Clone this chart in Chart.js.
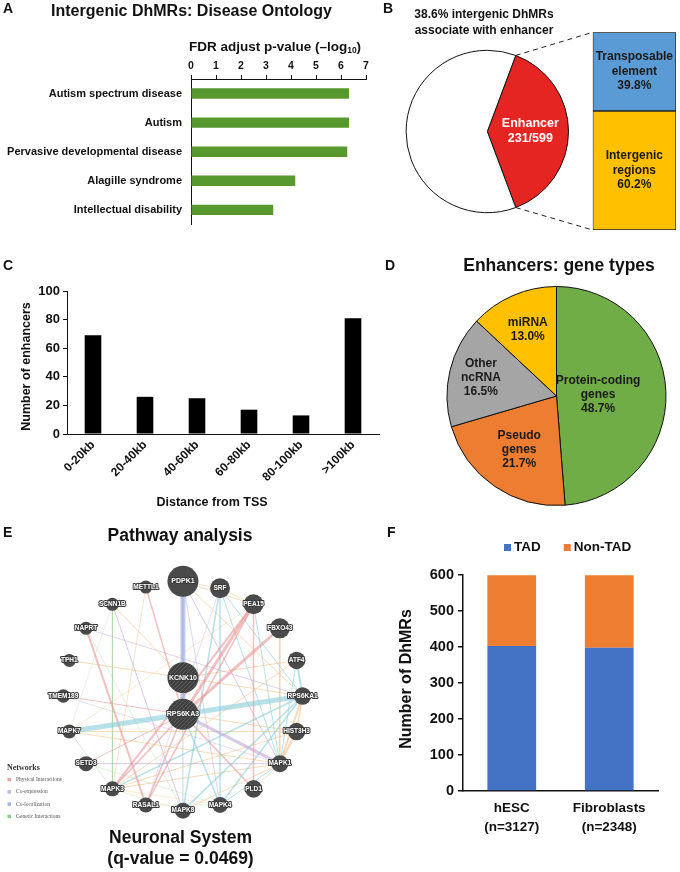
<!DOCTYPE html>
<html>
<head>
<meta charset="utf-8">
<script src="https://cdn.jsdelivr.net/npm/chart.js@4.4.1/dist/chart.umd.min.js"></script>
<style>
html, body { margin: 0; padding: 0; background: #fff; }
#page { position: relative; width: 680px; height: 872px; overflow: hidden; background: #fff; }
canvas { position: absolute; }
</style>
</head>
<body>
<div id="page">
<canvas id="chartE" width="370" height="352" style="left:0px;top:520px"></canvas>
<canvas id="chartA" width="380" height="240" style="left:0px;top:0px"></canvas>
<canvas id="chartB" width="300" height="240" style="left:380px;top:0px"></canvas>
<canvas id="chartBox" width="92" height="206" style="left:588px;top:28px"></canvas>
<canvas id="chartC" width="380" height="280" style="left:0px;top:240px"></canvas>
<canvas id="chartD" width="300" height="290" style="left:380px;top:240px"></canvas>
<canvas id="chartF" width="300" height="347" style="left:380px;top:525px"></canvas>
</div>
<script>
// ---- data ----
// A: disease ontology
const diseaseTerms = ['Autism spectrum disease', 'Autism', 'Pervasive developmental disease', 'Alagille syndrome', 'Intellectual disability'];
const diseaseScores = [6.32, 6.32, 6.25, 4.17, 3.29];

// B: enhancer overlap
const enhancerShare = [38.6, 61.4];
const enhancerTypes = ['Transposable element', 'Intergenic regions'];
const enhancerTypeShare = [39.8, 60.2];

// C: distance from TSS
const tssBins = ['0-20kb', '20-40kb', '40-60kb', '60-80kb', '80-100kb', '>100kb'];
const tssCounts = [69, 26, 25, 17, 13, 81];

// D: gene types
const geneTypes = [['Protein-coding', 'genes'], ['Pseudo', 'genes'], ['Other', 'ncRNA'], ['miRNA']];
const geneTypeShare = [48.7, 21.7, 16.5, 13.0];

// E: network (node layout)
const genes = ['PDPK1', 'SRF', 'PEA15', 'FBXO43', 'ATF4', 'RPS6KA1', 'HIST3H3', 'MAPK1', 'PLD1', 'MAPK4', 'MAPK8',
  'RASAL1', 'MAPK3', 'SETD3', 'MAPK7', 'TMEM189', 'TPH1', 'NAPRT', 'SCNN1B', 'METTL1', 'KCNK10', 'RPS6KA3'];
const geneX = [0, 0.31, 0.59, 0.81, 0.95, 1.0, 0.95, 0.81, 0.59, 0.31, 0, -0.31, -0.59, -0.81, -0.95, -1.0, -0.95, -0.81, -0.59, -0.31, 0, 0];
const geneY = [1.0, 0.94, 0.80, 0.59, 0.31, 0, -0.31, -0.59, -0.81, -0.95, -1.0, -0.95, -0.81, -0.59, -0.31, 0, 0.31, 0.59, 0.80, 0.95, 0.16, -0.16];
const geneWeight = [15.5, 10, 10, 10, 8.7, 8.7, 8.7, 8.5, 8.8, 8, 8, 7.5, 7.5, 7.5, 7, 6.7, 6.5, 6.5, 6.5, 6.5, 15.5, 15.5];
const queryGenes = ['KCNK10', 'RPS6KA3'];
const links = [
  ['PDPK1', 'RPS6KA3', 'coloc', 5], ['PDPK1', 'KCNK10', 'coexp', 2], ['MAPK7', 'RPS6KA3', 'path', 5],
  ['RPS6KA3', 'RPS6KA1', 'path', 5], ['PEA15', 'RPS6KA3', 'phys', 3], ['FBXO43', 'RPS6KA3', 'phys', 3],
  ['PEA15', 'MAPK3', 'phys', 2], ['PEA15', 'RASAL1', 'phys', 1.5], ['PEA15', 'PLD1', 'phys', 1.5],
  ['NAPRT', 'RASAL1', 'phys', 2], ['METTL1', 'RPS6KA3', 'phys', 1.5], ['RPS6KA3', 'MAPK1', 'coexp', 3],
  ['HIST3H3', 'MAPK1', 'pred', 2.5], ['RPS6KA1', 'MAPK1', 'pred', 2], ['RPS6KA1', 'HIST3H3', 'pred', 1.5],
  ['ATF4', 'RPS6KA1', 'path', 2], ['SRF', 'MAPK8', 'path', 1.5], ['SRF', 'MAPK4', 'path', 1.5],
  ['SRF', 'RPS6KA1', 'path', 1], ['PDPK1', 'RPS6KA1', 'pred', 1], ['MAPK3', 'RPS6KA1', 'path', 1.5],
  ['MAPK3', 'ATF4', 'pred', 1], ['MAPK8', 'RPS6KA1', 'path', 1.5], ['MAPK4', 'RPS6KA1', 'path', 1.5],
  ['MAPK4', 'RPS6KA3', 'path', 1.5], ['MAPK8', 'RPS6KA3', 'path', 1], ['TMEM189', 'RPS6KA3', 'phys', 1],
  ['TPH1', 'KCNK10', 'pred', 1], ['SCNN1B', 'MAPK8', 'coexp', 1], ['SCNN1B', 'KCNK10', 'pred', 1],
  ['NAPRT', 'RPS6KA1', 'coexp', 0.8], ['MAPK7', 'HIST3H3', 'pred', 1], ['MAPK7', 'MAPK1', 'pred', 1],
  ['MAPK7', 'MAPK3', 'gen', 0.8], ['SETD3', 'MAPK1', 'coexp', 1], ['SETD3', 'RPS6KA3', 'phys', 1],
  ['MAPK3', 'HIST3H3', 'pred', 1], ['MAPK3', 'MAPK1', 'pred', 1], ['MAPK3', 'RPS6KA3', 'phys', 1.5],
  ['RASAL1', 'RPS6KA3', 'phys', 1.5], ['MAPK8', 'MAPK1', 'pred', 1], ['PLD1', 'RPS6KA3', 'phys', 1.5],
  ['PLD1', 'MAPK1', 'pred', 0.8], ['MAPK4', 'MAPK1', 'path', 1], ['PDPK1', 'MAPK1', 'coexp', 1],
  ['PDPK1', 'PEA15', 'pred', 1], ['PDPK1', 'SRF', 'pred', 0.8], ['SRF', 'PEA15', 'pred', 0.8],
  ['METTL1', 'MAPK3', 'pred', 0.8], ['SCNN1B', 'MAPK3', 'gen', 0.8], ['NAPRT', 'MAPK8', 'gen', 0.6],
  ['KCNK10', 'RPS6KA1', 'pred', 1], ['KCNK10', 'ATF4', 'pred', 1], ['PEA15', 'MAPK1', 'path', 1],
  ['SRF', 'MAPK1', 'path', 1], ['FBXO43', 'MAPK1', 'pred', 0.8], ['ATF4', 'MAPK1', 'path', 1],
  ['MAPK7', 'PEA15', 'pred', 0.6], ['TMEM189', 'MAPK1', 'coexp', 0.6], ['MAPK8', 'MAPK3', 'pred', 0.6],
  ['RASAL1', 'MAPK4', 'gen', 0.6], ['MAPK3', 'MAPK4', 'pred', 0.6], ['SETD3', 'MAPK4', 'gen', 0.6],
  ['RPS6KA3', 'HIST3H3', 'pred', 1], ['PDPK1', 'MAPK4', 'coexp', 0.8], ['MAPK7', 'SCNN1B', 'gen', 0.5],
  ['SRF', 'RASAL1', 'coexp', 0.6]
];

// F: TAD overlap
const cellTypes = [['hESC', '(n=3127)'], ['Fibroblasts', '(n=2348)']];
const tadCounts = [403, 398];
const nonTadCounts = [196, 201];

// ---- setup ----
const FONT = '"Liberation Sans", Arial, Helvetica, sans-serif';
const SERIF = '"Liberation Serif", "DejaVu Serif", serif';
Chart.defaults.font.family = FONT;
Chart.defaults.font.weight = 'bold';
Chart.defaults.color = '#111';
Chart.defaults.animation = false;
Chart.defaults.responsive = false;
Chart.defaults.events = [];
Chart.defaults.plugins.legend.display = false;
Chart.defaults.plugins.tooltip.enabled = false;

function put(ctx, text, x, y, size, o = {}) {
  ctx.save();
  ctx.font = `${o.weight || 'bold'} ${size}px ${o.family || FONT}`;
  ctx.fillStyle = o.color || '#111';
  ctx.textAlign = o.align || 'center';
  ctx.textBaseline = 'middle';
  ctx.translate(x, y);
  if (o.rotate) ctx.rotate(o.rotate);
  ctx.fillText(text, 0, 0);
  ctx.restore();
}

// box of panel B, page coordinates
const BOX = { left: 592.7, right: 676, top: 32.3, bottom: 230 };

// ---- A ----
new Chart(document.getElementById('chartA'), {
  type: 'bar',
  data: {
    labels: diseaseTerms,
    datasets: [{ data: diseaseScores, backgroundColor: '#58992f', barPercentage: 0.36, categoryPercentage: 1 }]
  },
  options: {
    indexAxis: 'y',
    layout: { padding: { left: 0, top: 59, right: 14, bottom: 5 } },
    scales: {
      x: {
        position: 'top', min: 0, max: 7,
        ticks: { stepSize: 1, font: { size: 10.5 }, padding: 3 },
        grid: { drawOnChartArea: false, tickLength: 4, color: '#111' },
        border: { color: '#111' },
        afterFit: s => { s.height = 20; }
      },
      y: {
        ticks: { font: { size: 11 }, padding: 9 },
        grid: { display: false, drawTicks: false },
        border: { color: '#111' },
        afterFit: s => { s.width = 191; }
      }
    }
  },
  plugins: [{
    id: 'textA',
    afterDraw(chart) {
      const ctx = chart.ctx;
      put(ctx, 'A', 3, 9, 14, { align: 'left' });
      put(ctx, 'Intergenic DhMRs: Disease Ontology', 191.5, 12, 16);
      const main = 'FDR adjust p-value (\u2013log';
      ctx.font = `bold 13.5px ${FONT}`;
      const w1 = ctx.measureText(main).width;
      const w3 = ctx.measureText(')').width;
      ctx.font = `bold 8.5px ${FONT}`;
      const w2 = ctx.measureText('10').width;
      const x0 = 275 - (w1 + w2 + w3) / 2;
      put(ctx, main, x0, 47, 13.5, { align: 'left' });
      put(ctx, '10', x0 + w1, 51, 8.5, { align: 'left' });
      put(ctx, ')', x0 + w1 + w2, 47, 13.5, { align: 'left' });
    }
  }]
});

// ---- B ----
new Chart(document.getElementById('chartB'), {
  type: 'pie',
  data: {
    labels: ['Enhancer', 'Other'],
    datasets: [{ data: enhancerShare, backgroundColor: ['#e42522', '#ffffff'], borderColor: '#111', borderWidth: 1 }]
  },
  options: {
    rotation: 20.5,
    layout: { padding: { left: 25.6, right: 111, top: 49.8, bottom: 26.8 } }
  },
  plugins: [{
    id: 'textB',
    afterDraw(chart) {
      const ctx = chart.ctx;
      const arc = chart.getDatasetMeta(0).data[0];
      const r = arc.outerRadius;
      ctx.save();
      ctx.setLineDash([5, 4]);
      ctx.strokeStyle = '#222';
      ctx.lineWidth = 1;
      ctx.beginPath();
      ctx.moveTo(arc.x + r * Math.cos(arc.startAngle), arc.y + r * Math.sin(arc.startAngle));
      ctx.lineTo(BOX.left - 380, BOX.top);
      ctx.moveTo(arc.x + r * Math.cos(arc.endAngle), arc.y + r * Math.sin(arc.endAngle));
      ctx.lineTo(BOX.left - 380, BOX.bottom);
      ctx.stroke();
      ctx.restore();
      const mid = (arc.startAngle + arc.endAngle) / 2;
      const lx = arc.x + r * 0.53 * Math.cos(mid);
      const ly = arc.y + r * 0.53 * Math.sin(mid);
      put(ctx, 'Enhancer', lx, ly - 8, 12.5, { color: '#fff' });
      put(ctx, '231/599', lx, ly + 7, 12.5, { color: '#fff' });
      put(ctx, 'B', 3, 9, 14, { align: 'left' });
      put(ctx, enhancerShare[0].toFixed(1) + '% intergenic DhMRs', 104, 15, 12);
      put(ctx, 'associate with enhancer', 104, 31, 12);
    }
  }]
});

new Chart(document.getElementById('chartBox'), {
  type: 'bar',
  data: {
    labels: [''],
    datasets: [
      { label: enhancerTypes[1], data: [enhancerTypeShare[1]], backgroundColor: '#ffc000' },
      { label: enhancerTypes[0], data: [enhancerTypeShare[0]], backgroundColor: '#5b9bd5' }
    ]
  },
  options: {
    datasets: { bar: { barPercentage: 1, categoryPercentage: 1, borderColor: '#222', borderWidth: 1, borderSkipped: false } },
    layout: { padding: { left: BOX.left - 588, right: 680 - BOX.right, top: BOX.top - 28, bottom: 234 - BOX.bottom } },
    scales: {
      x: { display: false, stacked: true },
      y: { display: false, stacked: true, min: 0, max: 100 }
    }
  },
  plugins: [{
    id: 'textBox',
    afterDraw(chart) {
      const ctx = chart.ctx;
      chart.data.datasets.forEach((ds, i) => {
        const el = chart.getDatasetMeta(i).data[0];
        const cy = (el.y + el.base) / 2;
        const lines = ds.label.split(' ').concat([ds.data[0].toFixed(1) + '%']);
        lines.forEach((t, k) => put(ctx, t, el.x, cy + (k - 1) * 14.5, 12, { color: '#1a1a1a' }));
      });
    }
  }]
});

// ---- C ----
new Chart(document.getElementById('chartC'), {
  type: 'bar',
  data: {
    labels: tssBins,
    datasets: [{ data: tssCounts, backgroundColor: '#000', barPercentage: 0.32, categoryPercentage: 1 }]
  },
  options: {
    layout: { padding: { left: 0, top: 51, right: 1, bottom: 6 } },
    scales: {
      x: {
        ticks: { font: { size: 12 }, minRotation: 45, maxRotation: 45, padding: 4, autoSkip: false },
        grid: { display: false, drawTicks: false },
        border: { color: '#111' },
        afterFit: s => { s.height = 80; }
      },
      y: {
        min: 0, max: 100,
        ticks: { stepSize: 20, font: { size: 13 }, padding: 3 },
        grid: { drawOnChartArea: false, tickLength: 4, color: '#111' },
        border: { color: '#111' },
        afterFit: s => { s.width = 67; }
      }
    }
  },
  plugins: [{
    id: 'textC',
    afterDraw(chart) {
      const ctx = chart.ctx;
      put(ctx, 'C', 3, 26, 14, { align: 'left' });
      put(ctx, 'Number of enhancers', 27, 126.5, 12.5, { rotate: -Math.PI / 2 });
      put(ctx, 'Distance from TSS', 212, 262.3, 12.5);
    }
  }]
});

// ---- D ----
const geneLabelRadius = [0.38, 0.6, 0.71, 0.66];
new Chart(document.getElementById('chartD'), {
  type: 'pie',
  data: {
    labels: geneTypes,
    datasets: [{ data: geneTypeShare, backgroundColor: ['#70ad47', '#ed7d31', '#a5a5a5', '#ffc000'], borderColor: '#111', borderWidth: 1 }]
  },
  options: {
    layout: { padding: { left: 66.5, right: 13.5, top: 46, bottom: 24 } }
  },
  plugins: [{
    id: 'textD',
    afterDraw(chart) {
      const ctx = chart.ctx;
      put(ctx, 'D', 5, 26, 14, { align: 'left' });
      put(ctx, 'Enhancers: gene types', 179, 25.7, 17.5);
      chart.getDatasetMeta(0).data.forEach((arc, i) => {
        const mid = (arc.startAngle + arc.endAngle) / 2;
        const f = geneLabelRadius[i] * arc.outerRadius;
        const cx = arc.x + f * Math.cos(mid);
        const cy = arc.y + f * Math.sin(mid);
        const lines = geneTypes[i].concat([geneTypeShare[i].toFixed(1) + '%']);
        lines.forEach((t, k) => put(ctx, t, cx, cy + (k - (lines.length - 1) / 2) * 14, 12, { color: '#1a1a1a' }));
      });
    }
  }]
});

// ---- E ----
const linkColors = {
  phys: 'rgba(232,150,150,0.6)',
  coexp: 'rgba(190,165,215,0.6)',
  coloc: 'rgba(165,180,225,0.7)',
  path: 'rgba(135,205,215,0.6)',
  pred: 'rgba(240,190,130,0.55)',
  gen: 'rgba(150,205,145,0.5)'
};
const hatchTile = document.createElement('canvas');
hatchTile.width = 4; hatchTile.height = 4;
const htx = hatchTile.getContext('2d');
htx.fillStyle = '#404040'; htx.fillRect(0, 0, 4, 4);
htx.strokeStyle = '#5c5c5c'; htx.lineWidth = 1;
htx.beginPath(); htx.moveTo(0, 4); htx.lineTo(4, 0); htx.stroke();
const hatch = htx.createPattern(hatchTile, 'repeat');

const nodePoint = name => { const i = genes.indexOf(name); return { x: geneX[i], y: geneY[i] }; };
const networkSets = [{
  data: genes.map((g, i) => ({ x: geneX[i], y: geneY[i] })),
  pointRadius: geneWeight,
  pointBackgroundColor: genes.map(g => queryGenes.includes(g) ? hatch : '#4a4a4a'),
  pointBorderWidth: 0,
  showLine: false
}].concat(links.map(l => ({
  data: [nodePoint(l[0]), nodePoint(l[1])],
  showLine: true,
  pointRadius: 0,
  borderColor: linkColors[l[2]],
  borderWidth: l[3]
})));

new Chart(document.getElementById('chartE'), {
  type: 'scatter',
  data: { datasets: networkSets },
  options: {
    layout: { padding: { left: 11.6, right: 19.6, top: 0.6, bottom: 12.6 } },
    scales: {
      x: { type: 'linear', min: -1.4, max: 1.4, display: false },
      y: { type: 'linear', min: -1.4, max: 1.4, display: false }
    }
  },
  plugins: [{
    id: 'textE',
    afterDraw(chart) {
      const ctx = chart.ctx;
      chart.getDatasetMeta(0).data.forEach((el, i) => {
        ctx.save();
        ctx.font = `bold ${geneWeight[i] > 12 ? 7 : 6.5}px ${FONT}`;
        ctx.textAlign = 'center';
        ctx.textBaseline = 'middle';
        ctx.lineJoin = 'round';
        ctx.lineWidth = 2;
        ctx.strokeStyle = '#3a3a3a';
        ctx.strokeText(genes[i], el.x, el.y);
        ctx.fillStyle = '#fff';
        ctx.fillText(genes[i], el.x, el.y);
        ctx.restore();
      });
      put(ctx, 'E', 3, 13.5, 14, { align: 'left' });
      put(ctx, 'Pathway analysis', 180, 16, 17.5);
      put(ctx, 'Neuronal System', 180.5, 318, 17.5);
      put(ctx, '(q-value = 0.0469)', 180.5, 339, 17.5);
      put(ctx, 'Networks', 7, 247.5, 8, { align: 'left', family: SERIF, color: '#333' });
      const legendItems = [['Physical Interactions', '#e8a3a3'], ['Co-expression', '#c8b7dc'], ['Co-localization', '#a3b6dd'], ['Genetic Interactions', '#8fcc8b']];
      legendItems.forEach((it, k) => {
        const y = 259.5 + k * 12.3;
        ctx.fillStyle = it[1];
        ctx.fillRect(7.5, y - 1.7, 3.5, 3.5);
        put(ctx, it[0], 16, y, 5.5, { align: 'left', family: SERIF, weight: 'normal', color: '#555' });
      });
    }
  }]
});

// ---- F ----
new Chart(document.getElementById('chartF'), {
  type: 'bar',
  data: {
    labels: cellTypes,
    datasets: [
      { label: 'TAD', data: tadCounts, backgroundColor: '#4472c4' },
      { label: 'Non-TAD', data: nonTadCounts, backgroundColor: '#ed7d31' }
    ]
  },
  options: {
    datasets: { bar: { barPercentage: 0.5, categoryPercentage: 1 } },
    layout: { padding: { left: 0, top: 50, right: 22, bottom: 31 } },
    scales: {
      x: {
        stacked: true,
        ticks: { font: { size: 13.5, lineHeight: 1.4 }, padding: 8 },
        grid: { display: false, drawTicks: false },
        border: { color: '#111', width: 1.5 },
        afterFit: s => { s.height = 50; }
      },
      y: {
        stacked: true, min: 0, max: 600,
        ticks: { stepSize: 100, font: { size: 14.5 }, padding: 4 },
        grid: { drawOnChartArea: false, tickLength: 5, color: '#111', lineWidth: 1.5 },
        border: { color: '#111', width: 1.5 },
        afterFit: s => { s.width = 83; }
      }
    }
  },
  plugins: [{
    id: 'textF',
    afterDraw(chart) {
      const ctx = chart.ctx;
      put(ctx, 'F', 7, 8.5, 14, { align: 'left' });
      put(ctx, 'Number of DhMRs', 26.7, 154, 16, { rotate: -Math.PI / 2 });
      let x = 124;
      chart.data.datasets.forEach(ds => {
        ctx.fillStyle = ds.backgroundColor;
        ctx.fillRect(x, 19, 7, 7);
        put(ctx, ds.label, x + 10, 22.5, 13.5, { align: 'left' });
        ctx.font = `bold 13.5px ${FONT}`;
        x += 10 + ctx.measureText(ds.label).width + 23;
      });
    }
  }]
});
</script>
</body>
</html>
